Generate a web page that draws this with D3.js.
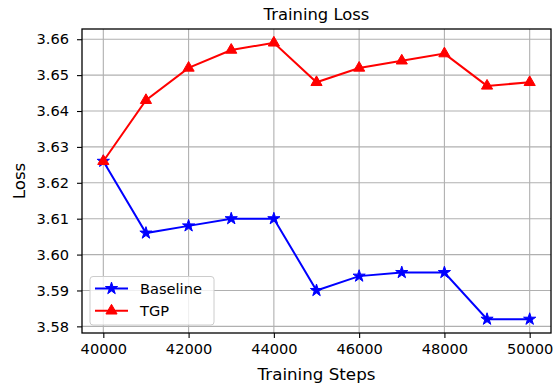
<!DOCTYPE html>
<html>
<head>
<meta charset="utf-8">
<script src="https://cdn.jsdelivr.net/npm/d3@7"></script>
<style>
  body { margin: 0; background: #fff; }
  text { font-family: "DejaVu Sans", sans-serif; fill: #000; }
</style>
</head>
<body>
<div id="container"></div>
<script>
let w = 556;
let h = 383;

// data
let steps = [40000, 41000, 42000, 43000, 44000, 45000, 46000, 47000, 48000, 49000, 50000];
let baseline = [3.626, 3.606, 3.608, 3.610, 3.610, 3.590, 3.594, 3.595, 3.595, 3.582, 3.582];
let tgp = [3.626, 3.643, 3.652, 3.657, 3.659, 3.648, 3.652, 3.654, 3.656, 3.647, 3.648];
let xTicks = [40000, 42000, 44000, 46000, 48000, 50000];
let yTicks = [3.58, 3.59, 3.60, 3.61, 3.62, 3.63, 3.64, 3.65, 3.66];

let padL = 82, padR = 551, padT = 29, padB = 333;

let viz = d3.select("#container").append("svg")
    .attr("width", w)
    .attr("height", h);

// matplotlib style 5% margins
let allY = baseline.concat(tgp);
let yMin = d3.min(allY), yMax = d3.max(allY);
let yPad = (yMax - yMin) * 0.05;
let xPad = (d3.max(steps) - d3.min(steps)) * 0.05;

let x = d3.scaleLinear().domain([d3.min(steps) - xPad, d3.max(steps) + xPad]).range([padL, padR]);
let y = d3.scaleLinear().domain([yMin - yPad, yMax + yPad]).range([padB, padT]);

// grid
viz.append("g").selectAll("line").data(xTicks).enter().append("line")
    .attr("x1", d => x(d)).attr("x2", d => x(d))
    .attr("y1", padT).attr("y2", padB)
    .attr("stroke", "#b0b0b0").attr("stroke-width", 1.1);
viz.append("g").selectAll("line").data(yTicks).enter().append("line")
    .attr("x1", padL).attr("x2", padR)
    .attr("y1", d => y(d)).attr("y2", d => y(d))
    .attr("stroke", "#b0b0b0").attr("stroke-width", 1.1);

// axes
let xAxis = viz.append("g")
    .attr("transform", `translate(0,${padB})`)
    .call(d3.axisBottom(x).tickValues(xTicks).tickSize(5).tickPadding(6).tickFormat(d3.format("d")));
let yAxis = viz.append("g")
    .attr("transform", `translate(${padL},0)`)
    .call(d3.axisLeft(y).tickValues(yTicks).tickSize(5).tickPadding(8).tickFormat(d3.format(".2f")));
[xAxis, yAxis].forEach(a => {
  a.select(".domain").remove();
  a.selectAll(".tick line").attr("stroke", "#000").attr("stroke-width", 1.1);
  a.selectAll(".tick text").attr("font-size", "14.6px").attr("font-family", "DejaVu Sans");
});

// spines
viz.append("rect")
    .attr("x", padL).attr("y", padT)
    .attr("width", padR - padL).attr("height", padB - padT)
    .attr("fill", "none").attr("stroke", "#000").attr("stroke-width", 1.3);

let star = d3.symbol().type(d3.symbolStar).size(46);
let tri = d3.symbol().type(d3.symbolTriangle).size(54);

let series = [
  {name: "Baseline", values: baseline, color: "#0000ff", sym: star},
  {name: "TGP", values: tgp, color: "#ff0000", sym: tri}
];

let lineMaker = d3.line().x((d, i) => x(steps[i])).y(d => y(d));

series.forEach(s => {
  viz.append("path")
      .attr("d", lineMaker(s.values))
      .attr("fill", "none")
      .attr("stroke", s.color)
      .attr("stroke-width", 2);
  viz.append("g").selectAll("path").data(s.values).enter().append("path")
      .attr("d", s.sym)
      .attr("transform", (d, i) => `translate(${x(steps[i])},${y(d)})`)
      .attr("fill", s.color)
      .attr("stroke", s.color)
      .attr("stroke-width", 1);
});

// title and labels
viz.append("text")
    .attr("x", (padL + padR) / 2).attr("y", 20)
    .attr("text-anchor", "middle").attr("font-size", "16.4px")
    .text("Training Loss");
viz.append("text")
    .attr("x", (padL + padR) / 2).attr("y", 380)
    .attr("text-anchor", "middle").attr("font-size", "16.7px")
    .text("Training Steps");
viz.append("text")
    .attr("transform", `translate(25,${(padT + padB) / 2}) rotate(-90)`)
    .attr("text-anchor", "middle").attr("font-size", "16.7px")
    .text("Loss");

// legend
let legend = viz.append("g");
legend.append("rect")
    .attr("x", 90).attr("y", 276.5)
    .attr("width", 124).attr("height", 48.5)
    .attr("rx", 3)
    .attr("fill", "#fff").attr("fill-opacity", 0.8)
    .attr("stroke", "#cccccc").attr("stroke-width", 1);
series.forEach((s, i) => {
  let ly = 288.5 + i * 22.3;
  legend.append("line")
      .attr("x1", 95).attr("x2", 128).attr("y1", ly).attr("y2", ly)
      .attr("stroke", s.color).attr("stroke-width", 2);
  legend.append("path")
      .attr("d", s.sym)
      .attr("transform", `translate(111.5,${ly})`)
      .attr("fill", s.color).attr("stroke", s.color);
  legend.append("text")
      .attr("x", 140).attr("y", ly + 5.5)
      .attr("font-size", "14.6px")
      .text(s.name);
});
</script>
</body>
</html>
